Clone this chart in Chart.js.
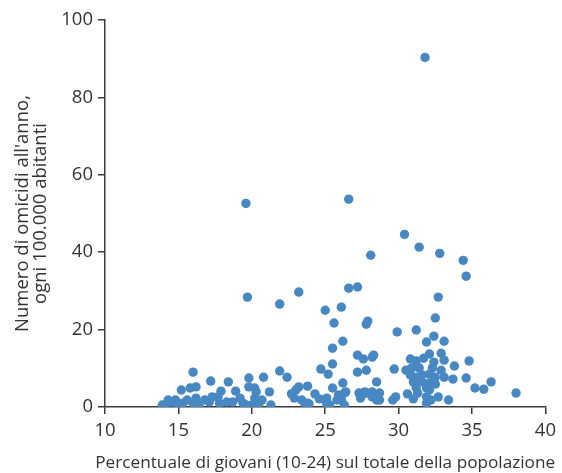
<!DOCTYPE html>
<html>
<head>
<meta charset="utf-8">
<script src="https://cdn.jsdelivr.net/npm/chart.js@4"></script>
<style>
  html, body { margin: 0; padding: 0; background: #fff; }
  #wrap { width: 562px; height: 473px; }
</style>
</head>
<body>
<div id="wrap"><canvas id="grafico" width="562" height="473"></canvas></div>
<script>
// quota di giovani (%) e omicidi ogni 100.000 abitanti
var giovani = [
  31.8, 19.6, 26.6, 30.4, 31.4, 32.8, 28.1, 34.4, 34.6, 19.7,
  23.2, 21.9, 26.6, 27.2, 32.7, 27.9, 27.8, 26.1, 25.0, 25.6,
  32.5, 31.2, 29.9, 32.4, 33.1, 31.9, 25.5, 26.2, 34.8, 27.2,
  27.6, 28.2, 28.3, 25.5, 24.7, 25.2, 27.2, 27.8, 26.2, 28.5,
  29.7, 30.5, 30.8, 31.2, 31.7, 32.1, 32.9, 32.4, 33.1, 33.8,
  30.9, 31.4, 32.3, 32.9, 30.8, 31.2, 31.6, 32.1, 32.5, 33.1,
  33.7, 34.6, 31.0, 31.6, 32.1, 32.5, 31.2, 31.9, 31.3, 30.6,
  29.8, 29.6, 31.0, 31.9, 32.2, 31.9, 32.7, 33.4, 35.2, 35.8,
  36.3, 38.0, 28.7, 28.7, 27.7, 28.2, 28.5, 25.1, 25.3, 25.8,
  26.3, 25.5, 26.3, 20.8, 21.9, 22.4, 23.2, 23.8, 24.3, 22.7,
  23.4, 23.8, 22.9, 21.2, 21.3, 20.5, 20.2, 20.2, 16.0, 15.2,
  15.8, 16.2, 17.2, 17.9, 18.4, 18.9, 19.8, 19.8, 20.3, 13.9,
  14.3, 14.6, 15.0, 14.8, 15.6, 16.0, 16.4, 16.8, 17.1, 17.3,
  17.8, 18.3, 18.7, 19.2, 19.6, 20.7, 15.3, 17.7, 19.4, 20.0,
  14.1, 16.2, 32.1, 27.3, 27.4, 27.8, 28.2, 25.9, 26.1, 26.4,
  24.6, 25.1, 23.0, 23.6, 23.9
];
var omicidi = [
  90.3, 52.6, 53.7, 44.6, 41.3, 39.7, 39.2, 37.9, 33.8, 28.4,
  29.7, 26.6, 30.7, 31.0, 28.4, 22.2, 21.4, 25.8, 25.0, 21.7,
  23.0, 19.9, 19.4, 18.3, 17.0, 16.8, 15.2, 17.0, 11.9, 13.4,
  12.4, 12.9, 13.4, 11.1, 9.8, 8.5, 9.0, 9.5, 6.2, 6.5,
  9.8, 9.5, 12.4, 11.9, 12.6, 13.7, 13.9, 11.6, 12.1, 10.6,
  10.1, 10.1, 10.1, 9.5, 8.3, 7.7, 8.3, 8.5, 7.7, 7.7,
  7.2, 7.5, 6.5, 6.5, 6.2, 5.9, 4.9, 4.9, 3.6, 3.4,
  2.6, 1.8, 2.1, 2.6, 1.8, 1.0, 2.6, 1.8, 4.9, 4.6,
  6.5, 3.6, 3.6, 1.8, 3.9, 3.9, 1.8, 2.3, 0.5, 1.8,
  0.5, 4.9, 3.6, 7.7, 9.3, 7.7, 5.2, 5.4, 3.4, 3.4,
  1.8, 1.0, 2.3, 3.9, 0.5, 1.0, 2.3, 4.9, 9.0, 4.4,
  4.9, 5.2, 6.7, 4.1, 6.5, 4.1, 7.5, 5.2, 3.9, 0.5,
  1.8, 1.3, 0.5, 1.8, 1.8, 1.0, 0.5, 1.8, 1.3, 2.6,
  1.0, 1.3, 1.3, 2.3, 0.5, 1.8, 1.0, 2.6, 1.0, 0.5,
  0.5, 2.3, 4.4, 3.6, 2.3, 3.6, 2.6, 3.1, 1.8, 3.9,
  2.1, 1.0, 4.4, 1.0, 0.8
];
var tick_x = [10, 15, 20, 25, 30, 35, 40];
var tick_y = [0, 20, 40, 60, 80, 100];
var titolo_x = 'Percentuale di giovani (10-24) sul totale della popolazione';

var punti = [];
for (let i = 0; i < giovani.length; i++) {
  punti.push({ x: giovani[i], y: omicidi[i] });
}

const scuro = '#3a3a3a';
const fonte = '"Open Sans", Lato, sans-serif';

// il titolo dell'asse x e' piu' largo dell'area del grafico: lo disegno a mano
const titoloX = {
  id: 'titoloX',
  afterDraw(chart) {
    const ctx = chart.ctx;
    const area = chart.chartArea;
    ctx.save();
    ctx.font = '17.2px ' + fonte;
    ctx.fillStyle = '#333';
    ctx.textAlign = 'center';
    ctx.textBaseline = 'middle';
    ctx.fillText(titolo_x, (area.left + area.right) / 2, 463);
    ctx.restore();
  }
};

const config = {
  type: 'scatter',
  data: {
    datasets: [{
      data: punti,
      backgroundColor: '#4888c2',
      borderWidth: 0,
      pointRadius: 4.7,
      pointHoverRadius: 4.7
    }]
  },
  options: {
    responsive: false,
    animation: false,
    layout: { padding: { top: 20, right: 15, left: 13, bottom: 0 } },
    plugins: { legend: { display: false }, tooltip: { enabled: false } },
    scales: {
      x: {
        type: 'linear', min: 10, max: 40,
        afterBuildTicks: s => { s.ticks = tick_x.map(v => ({ value: v })); },
        afterFit: s => { s.height = 66; },
        grid: { drawOnChartArea: false, drawTicks: true, tickLength: 7, color: scuro, lineWidth: 1.5 },
        border: { display: true, color: scuro, width: 1.5 },
        ticks: { color: '#333', font: { family: fonte, size: 18.5 }, padding: 6 }
      },
      y: {
        min: 0, max: 100,
        afterBuildTicks: s => { s.ticks = tick_y.map(v => ({ value: v })); },
        afterFit: s => { s.width = 92; },
        grid: { drawOnChartArea: false, drawTicks: true, tickLength: 7, color: scuro, lineWidth: 1.5 },
        border: { display: true, color: scuro, width: 1.5 },
        ticks: { color: '#333', font: { family: fonte, size: 18.5 }, padding: 5 },
        title: {
          display: true, text: ["Numero di omicidi all'anno,", 'ogni 100.000 abitanti'],
          color: '#333', font: { family: fonte, size: 18.5, lineHeight: 1.0 }, padding: { top: 0, bottom: 4 }
        }
      }
    }
  },
  plugins: [titoloX]
};

const grafico = new Chart(document.getElementById('grafico'), config);
</script>
</body>
</html>
